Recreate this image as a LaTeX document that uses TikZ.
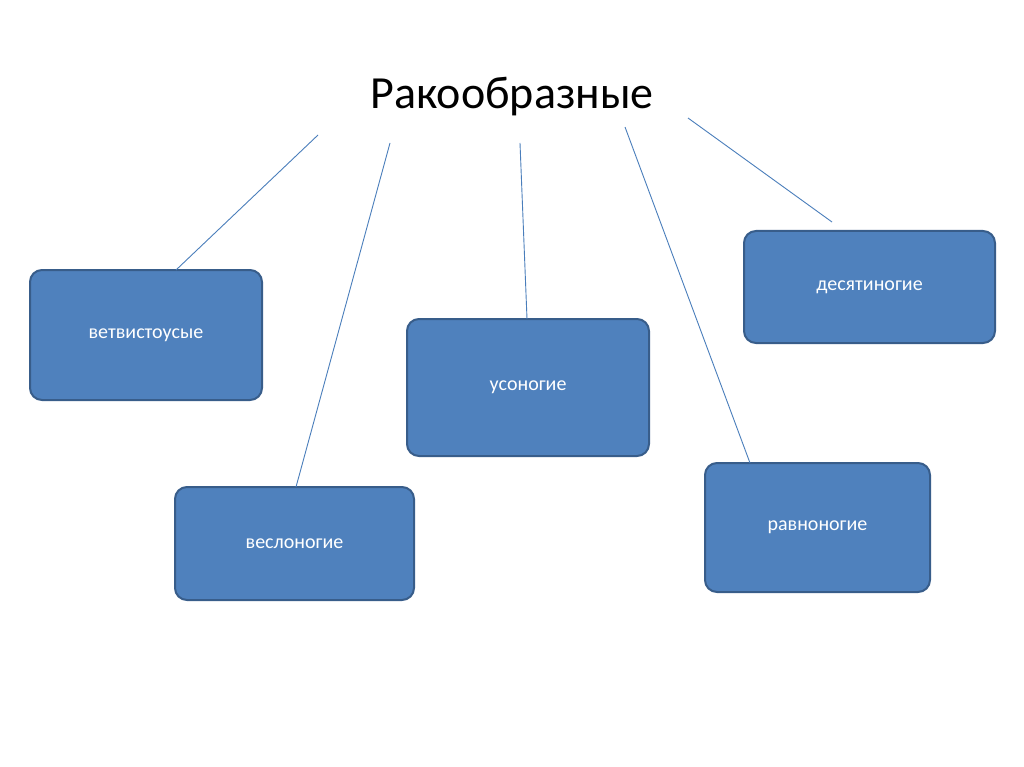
\documentclass[tikz,border=0pt]{standalone}
\usepackage{fontspec}
\setmainfont{Carlito}
\definecolor{boxfill}{HTML}{4F81BD}
\definecolor{boxline}{HTML}{385D8A}
\definecolor{conn}{HTML}{4A7EBB}
\begin{document}
\begin{tikzpicture}[x=1pt,y=-1pt,
  box/.style={draw=boxline,line width=2pt,fill=boxfill,rounded corners=12pt,text=white,font=\fontsize{20}{24}\selectfont},
  link/.style={draw=conn,line width=0.9pt}]
\fill[white] (0,0) rectangle (1024,767);
\useasboundingbox (0,0) rectangle (1024,767);
\node[font=\fontsize{46}{54}\selectfont] (title) at (512,97) {Ракообразные};
\node[box,minimum width=232pt,minimum height=130pt] (b1) at (146,335) {ветвистоусые};
\node[box,minimum width=239pt,minimum height=113pt] (b2) at (294.5,543.5) {веслоногие};
\node[box,minimum width=242pt,minimum height=137pt] (b3) at (528,387.5) {усоногие};
\node[box,minimum width=251pt,minimum height=112pt] (b4) at (869.5,287) {десятиногие};
\node[box,minimum width=225pt,minimum height=129pt] (b5) at (817.5,527.5) {равноногие};
\coordinate (s1) at (318,135); \coordinate (s2) at (390,143);
\coordinate (s3) at (520,143); \coordinate (s4) at (625,127);
\coordinate (s5) at (688,118); \coordinate (e5) at (832,222);
\coordinate (e1) at (176,270); \coordinate (e2) at (296,487);
\coordinate (e3) at (527,319); \coordinate (e4) at (750,463);
\draw[link] (s1) -- (e1);
\draw[link] (s2) -- (e2);
\draw[link] (s3) -- (e3);
\draw[link] (s4) -- (e4);
\draw[link] (s5) -- (e5);
\end{tikzpicture}
\end{document}
